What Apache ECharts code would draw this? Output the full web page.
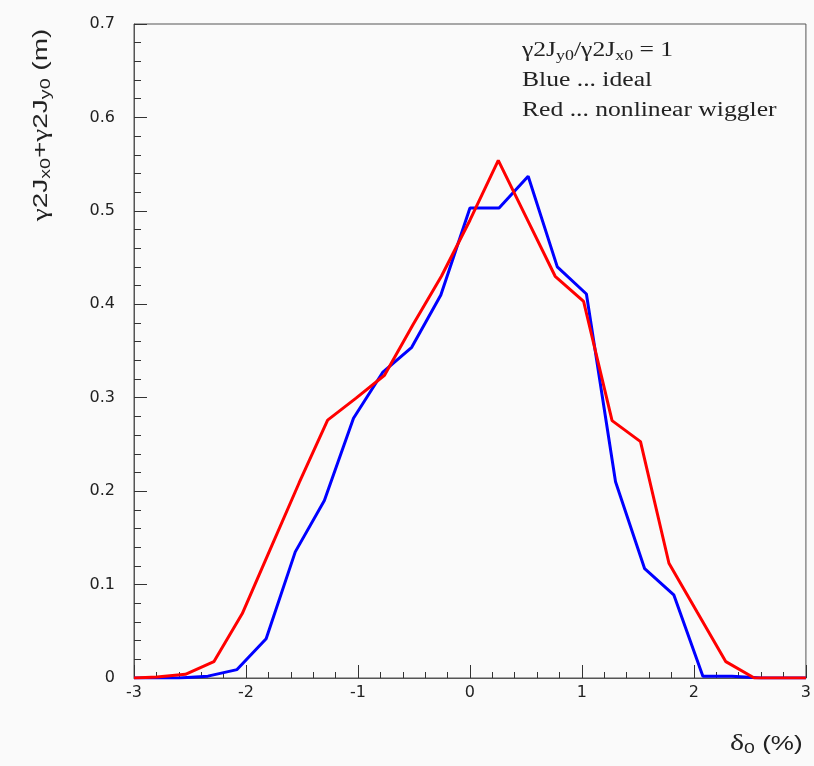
<!DOCTYPE html>
<html>
<head>
<meta charset="utf-8">
<script src="https://cdn.jsdelivr.net/npm/echarts@6/dist/echarts.min.js"></script>
<style>
html,body{margin:0;padding:0;background:#fafafa;}
#c{width:814px;height:766px;}
</style>
</head>
<body>
<div id="c"></div>
<script>
// Blue ... ideal
var blueX = [-3.0, -2.6, -2.34, -2.08, -1.82, -1.56, -1.30, -1.04, -0.78, -0.52, -0.26, 0.0, 0.26, 0.52, 0.78, 1.04, 1.30, 1.56, 1.82, 2.08, 2.34, 2.6, 3.0];
var blueY = [0.0, 0.0, 0.002, 0.009, 0.042, 0.135, 0.19, 0.278, 0.327, 0.354, 0.41, 0.503, 0.503, 0.537, 0.44, 0.411, 0.21, 0.117, 0.089, 0.002, 0.002, 0.0, 0.0];
// Red ... nonlinear wiggler
var redX = [-3.0, -2.795, -2.541, -2.287, -2.033, -1.779, -1.525, -1.271, -1.017, -0.763, -0.509, -0.255, 0.0, 0.253, 0.507, 0.761, 1.015, 1.269, 1.523, 1.777, 2.031, 2.285, 2.539, 3.0];
var redY = [0.0, 0.001, 0.004, 0.0175, 0.069, 0.139, 0.209, 0.276, 0.2995, 0.324, 0.378, 0.43, 0.49, 0.554, 0.492, 0.43, 0.403, 0.2755, 0.253, 0.1228, 0.07, 0.0175, 0.0, 0.0];
var xTicks = [-3, -2, -1, 0, 1, 2, 3];
var yTicks = [0, 0.1, 0.2, 0.3, 0.4, 0.5, 0.6, 0.7];

function pairs(xs, ys){ return xs.map(function(x,i){ return [x, ys[i]]; }); }

var chart = echarts.init(document.getElementById('c'));
var axisColor = '#555';
var sans = '"Liberation Sans", Arial, sans-serif';
var tickFont = '"DejaVu Sans", sans-serif';
var serif = '"Liberation Serif", "Times New Roman", serif';

chart.setOption({
  backgroundColor: '#fafafa',
  animation: false,
  grid: { left: 134, right: 5, top: 24, bottom: 88, show: true, borderColor: axisColor, borderWidth: 1, backgroundColor: 'transparent' },
  xAxis: {
    type: 'value', min: xTicks[0], max: xTicks[xTicks.length-1], interval: 1,
    axisLine: { show: true, onZero: false, lineStyle: { color: axisColor, width: 1 } },
    axisTick: { show: true, inside: true, length: 13, lineStyle: { color: '#333' } },
    minorTick: { show: true, splitNumber: 5, length: 6, lineStyle: { color: '#333' } },
    splitLine: { show: false },
    axisLabel: { color: '#222', fontSize: 16, fontFamily: tickFont, margin: 7 }
  },
  yAxis: {
    type: 'value', min: yTicks[0], max: yTicks[yTicks.length-1], interval: 0.1,
    axisLine: { show: true, onZero: false, lineStyle: { color: axisColor, width: 1 } },
    axisTick: { show: true, inside: true, length: 13, lineStyle: { color: '#333' } },
    minorTick: { show: true, splitNumber: 5, length: 7, lineStyle: { color: '#333' } },
    splitLine: { show: false },
    axisLabel: { color: '#222', fontSize: 16, fontFamily: tickFont, margin: 19 }
  },
  series: [
    { type: 'line', name: 'ideal', data: pairs(blueX, blueY), showSymbol: false, symbol: 'none',
      lineStyle: { color: '#0000ff', width: 3 }, z: 3 },
    { type: 'line', name: 'nonlinear wiggler', data: pairs(redX, redY), showSymbol: false, symbol: 'none',
      lineStyle: { color: '#ff0000', width: 3 }, z: 4 }
  ],
  graphic: [
    { type: 'text', x: 522, y: 51, scaleX: 1.28, z: 10,
      style: { text: '{b|γ2J}{s|y0}{b|/γ2J}{s|x0}{b| = 1}', fill: '#222', verticalAlign: 'middle',
        rich: { b: { fontFamily: serif, fontSize: 20 },
                s: { fontFamily: serif, fontSize: 14, padding: [11, 0, 0, 0] } } } },
    { type: 'text', x: 522, y: 81, scaleX: 1.28, z: 10,
      style: { text: 'Blue ... ideal', fill: '#222', font: '20px ' + serif, verticalAlign: 'middle' } },
    { type: 'text', x: 522, y: 111, scaleX: 1.28, z: 10,
      style: { text: 'Red ... nonlinear wiggler', fill: '#222', font: '20px ' + serif, verticalAlign: 'middle' } },
    { type: 'text', x: 41, y: 125, rotation: Math.PI/2, scaleX: 1.4, z: 10,
      style: { text: '{g|γ}{b|2J}{s|x0}{b|+}{g|γ}{b|2J}{s|y0}{b| (m)}', fill: '#222', align: 'center', verticalAlign: 'middle',
        rich: { g: { fontFamily: serif, fontSize: 21 },
                b: { fontFamily: sans, fontSize: 20 },
                s: { fontFamily: sans, fontSize: 14, padding: [11, 0, 0, 0] } } } },
    { type: 'text', x: 730, y: 744, scaleX: 1.3, z: 10,
      style: { text: '{g|δ}{s|0}{b| (%)}', fill: '#222', verticalAlign: 'middle',
        rich: { g: { fontFamily: serif, fontSize: 23 },
                b: { fontFamily: sans, fontSize: 20 },
                s: { fontFamily: sans, fontSize: 15, padding: [10, 0, 0, 0] } } } }
  ]
});
</script>
</body>
</html>
